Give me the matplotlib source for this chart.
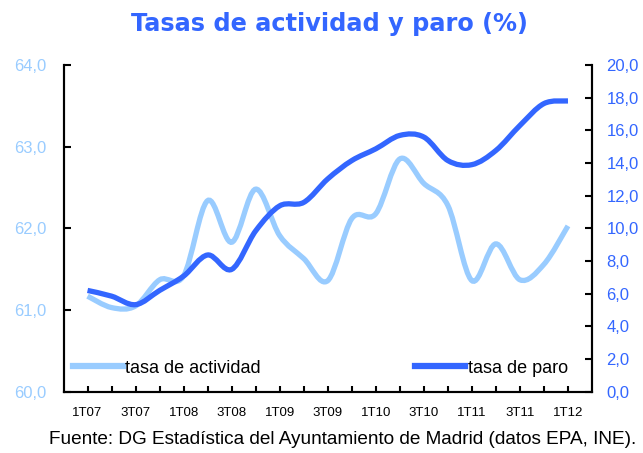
import matplotlib
matplotlib.use("Agg")
import matplotlib.pyplot as plt
from matplotlib.path import Path
from matplotlib.patches import PathPatch
from matplotlib.lines import Line2D
from matplotlib.ticker import FuncFormatter
import numpy as np

# quarters 1T07 .. 1T12
quarters = ["1T07", "2T07", "3T07", "4T07", "1T08", "2T08", "3T08", "4T08",
            "1T09", "2T09", "3T09", "4T09", "1T10", "2T10", "3T10", "4T10",
            "1T11", "2T11", "3T11", "4T11", "1T12"]

tasa_actividad = [61.17, 61.03, 61.05, 61.37, 61.42, 62.34, 61.83, 62.48,
                  61.91, 61.63, 61.36, 62.12, 62.18, 62.85, 62.55, 62.28,
                  61.36, 61.81, 61.37, 61.56, 62.03]

tasa_paro = [6.2, 5.85, 5.33, 6.2, 7.08, 8.37, 7.49, 9.85, 11.38, 11.59,
             13.03, 14.15, 14.87, 15.69, 15.59, 14.15, 13.9, 14.77, 16.3,
             17.64, 17.8]

LightBlue = "#99CCFF"
DarkBlue = "#3366FF"


def smoothPath(x, y):
    # bezier through the points (excel style smoothed line)
    x = np.asarray(x, float)
    y = np.asarray(y, float)
    verts = [(x[0], y[0])]
    codes = [Path.MOVETO]
    n = len(x)
    for i in range(n - 1):
        i0 = max(i - 1, 0)
        i3 = min(i + 2, n - 1)
        c1 = (x[i] + (x[i + 1] - x[i0]) / 6., y[i] + (y[i + 1] - y[i0]) / 6.)
        c2 = (x[i + 1] - (x[i3] - x[i]) / 6., y[i + 1] - (y[i3] - y[i]) / 6.)
        verts += [c1, c2, (x[i + 1], y[i + 1])]
        codes += [Path.CURVE4] * 3
    return Path(verts, codes)


def comma(v, pos):
    return ("%.1f" % v).replace(".", ",")


fig = plt.figure(figsize=(6.43, 4.53), dpi=100)
ax = fig.add_axes([0.0988, 0.1353, 0.8219, 0.7212])
ax2 = ax.twinx()

xs = np.arange(len(quarters))

ax.add_patch(PathPatch(smoothPath(xs, tasa_actividad), fill=False,
                       edgecolor=LightBlue, linewidth=3.8, capstyle="butt"))
ax2.add_patch(PathPatch(smoothPath(xs, tasa_paro), fill=False,
                        edgecolor=DarkBlue, linewidth=3.8, capstyle="butt"))

ax.set_xlim(-1, len(quarters))
ax.set_ylim(60, 64)
ax2.set_ylim(0, 20)

ax.set_xticks(xs)
ax.set_xticklabels([q if i % 2 == 0 else "" for i, q in enumerate(quarters)],
                   fontsize=9.5, family="Liberation Sans")
ax.set_yticks([60, 61, 62, 63, 64])
ax2.set_yticks(np.arange(0, 21, 2))
ax.yaxis.set_major_formatter(FuncFormatter(comma))
ax2.yaxis.set_major_formatter(FuncFormatter(comma))

for a in [ax, ax2]:
    a.spines["top"].set_visible(False)
    for s in a.spines.values():
        s.set_linewidth(1.5)
ax.tick_params(axis="x", direction="in", length=4, width=1.5, pad=11)
ax.tick_params(axis="y", direction="in", length=5, width=1.5, pad=12.5,
               labelcolor=LightBlue, labelsize=12)
ax2.tick_params(axis="y", direction="in", length=5, width=1.5, pad=10.5,
                labelcolor=DarkBlue, labelsize=12)
for lab in ax.get_yticklabels() + ax2.get_yticklabels():
    lab.set_family("Liberation Sans")

h1 = Line2D([], [], color=LightBlue, linewidth=4.5)
h2 = Line2D([], [], color=DarkBlue, linewidth=4.5)
legprops = {"family": "Liberation Sans", "size": 13}
leg1 = ax2.legend([h1], ["tasa de actividad"], loc="center left",
                  bbox_to_anchor=(0.018, 0.0725), frameon=False, handlelength=2.75,
                  handletextpad=0.15, borderpad=0, borderaxespad=0, prop=legprops)
ax2.add_artist(leg1)
ax2.legend([h2], ["tasa de paro"], loc="center right",
           bbox_to_anchor=(0.954, 0.0725), frameon=False, handlelength=2.75,
           handletextpad=0.15, borderpad=0, borderaxespad=0, prop=legprops)

fig.text(0.513, 0.947, "Tasas de actividad y paro (%)", ha="center", va="center",
         fontsize=17.3, fontweight="bold", color=DarkBlue, family="DejaVu Sans")
fig.text(0.533, 0.029, "Fuente: DG Estadística del Ayuntamiento de Madrid (datos EPA, INE).",
         ha="center", va="center", fontsize=13.7, family="Liberation Sans")

fig.savefig("out.png", dpi=100)
